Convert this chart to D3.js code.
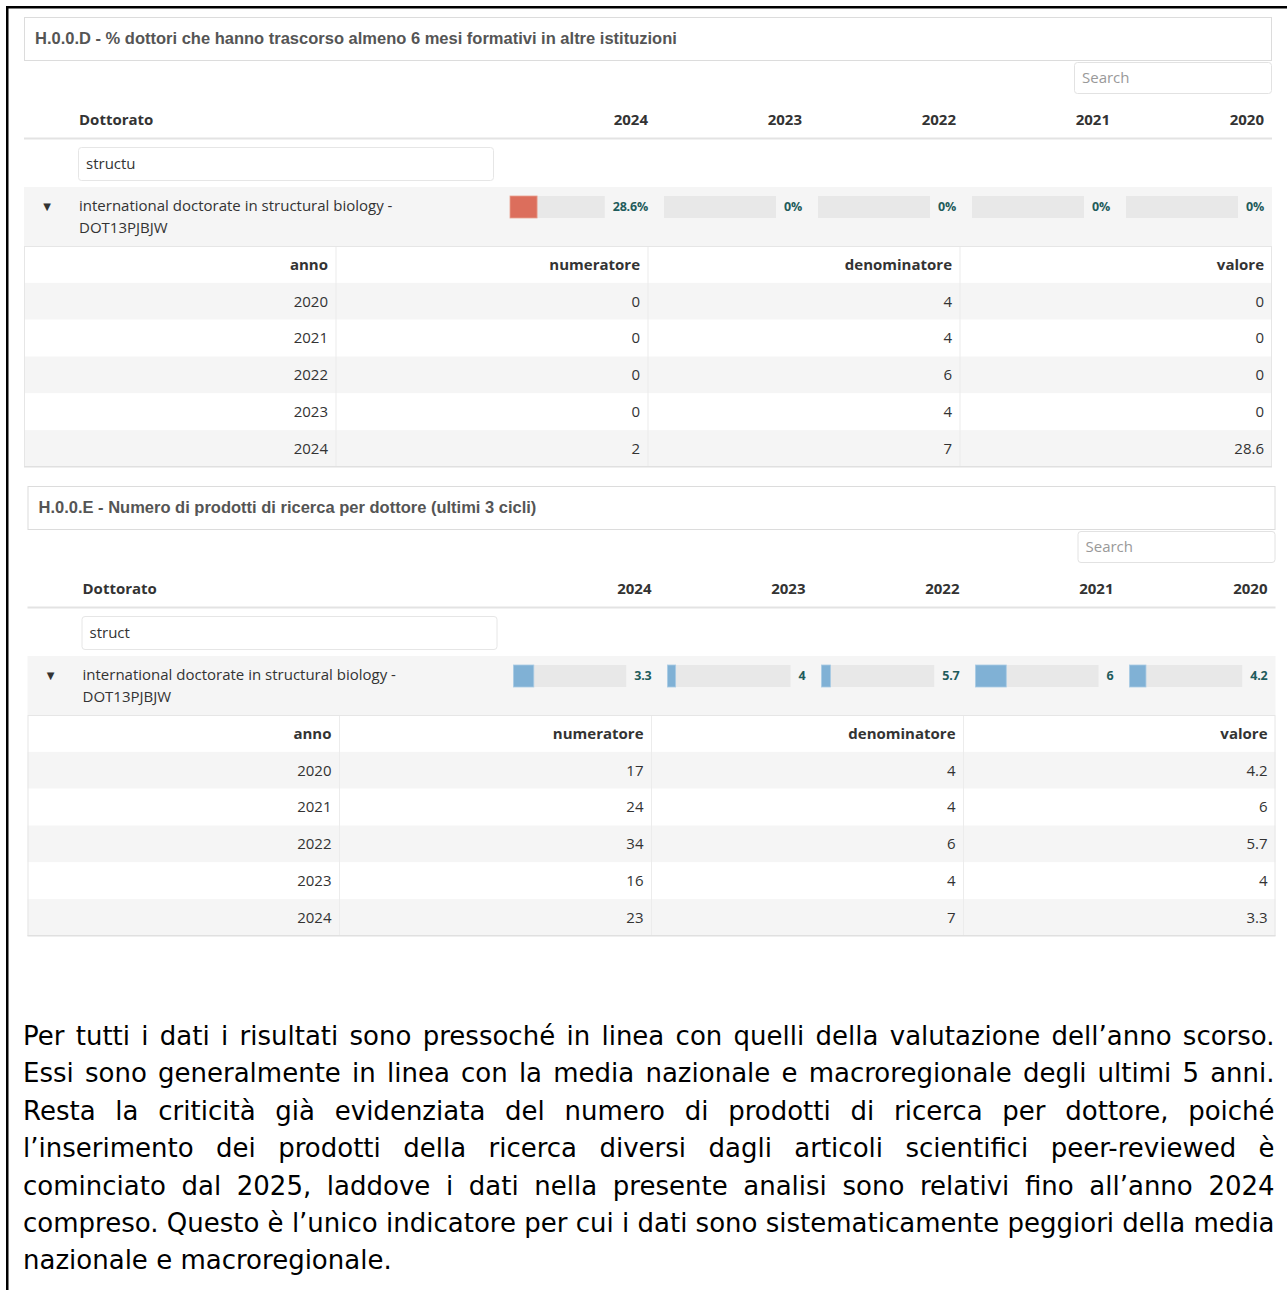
<!DOCTYPE html>
<html><head><meta charset="utf-8">
<script src="https://cdn.jsdelivr.net/npm/d3@7"></script>
<style>
html,body{margin:0;padding:0;background:#fff;}
svg{display:block;}
</style></head>
<body>
<svg id="c" width="1287" height="1290"></svg>
<script>
// ---- data ----
const yearCols = ["2024", "2023", "2022", "2021", "2020"];
const detailYears = ["2020", "2021", "2022", "2023", "2024"];
const detailHeaders = ["anno", "numeratore", "denominatore", "valore"];

const titleD = "H.0.0.D - % dottori che hanno trascorso almeno 6 mesi formativi in altre istituzioni";
const filterD = "structu";
const pctValues = [28.6, 0, 0, 0, 0];             // by yearCols
const pctLabels = ["28.6%", "0%", "0%", "0%", "0%"];
const pctNum = [0, 0, 0, 0, 2];                   // by detailYears
const pctDen = [4, 4, 6, 4, 7];
const pctVal = ["0", "0", "0", "0", "28.6"];

const titleE = "H.0.0.E - Numero di prodotti di ricerca per dottore (ultimi 3 cicli)";
const filterE = "struct";
const prodValues = [3.3, 4, 5.7, 6, 4.2];         // by yearCols
const prodLabels = ["3.3", "4", "5.7", "6", "4.2"];
const prodBarFill = [18, 6.6, 8, 25, 14.6];       // bar fill (% of track) as shown
const prodNum = [17, 24, 34, 16, 23];             // by detailYears
const prodDen = [4, 4, 6, 4, 7];
const prodVal = ["4.2", "6", "5.7", "4", "3.3"];

const programName = ["international doctorate in structural biology -", "DOT13PJBJW"];

const paragraph = [
  "Per tutti i dati i risultati sono pressoché in linea con quelli della valutazione dell’anno scorso.",
  "Essi sono generalmente in linea con la media nazionale e macroregionale degli ultimi 5 anni.",
  "Resta la criticità già evidenziata del numero di prodotti di ricerca per dottore, poiché",
  "l’inserimento dei prodotti della ricerca diversi dagli articoli scientifici peer-reviewed è",
  "cominciato dal 2025, laddove i dati nella presente analisi sono relativi fino all’anno 2024",
  "compreso. Questo è l’unico indicatore per cui i dati sono sistematicamente peggiori della media",
  "nazionale e macroregionale."
];

// ---- drawing ----
const svg = d3.select("#c");
const SANS = "'Open Sans', 'Noto Sans', sans-serif";
const ARIAL = "'Liberation Sans', Arial, sans-serif";

// black frame
svg.append("rect").attr("x", 6).attr("y", 6).attr("width", 1290).attr("height", 2.5).attr("fill", "#000");
svg.append("rect").attr("x", 6).attr("y", 6).attr("width", 2.5).attr("height", 1290).attr("fill", "#000");

function panel(g, opt) {
  const L = 24, R = 1272, W = R - L;
  // title box
  g.append("rect").attr("x", L + 0.5).attr("y", 17.5).attr("width", W - 1).attr("height", 43)
    .attr("fill", "#fff").attr("stroke", "#dcdcdc");
  g.append("text").attr("x", 35).attr("y", 38).attr("dy", "0.35em")
    .attr("font-family", ARIAL).attr("font-weight", "bold").attr("font-size", 16.5)
    .attr("fill", "#555").text(opt.title);
  // search box
  g.append("rect").attr("x", 1074.5).attr("y", 62.5).attr("width", 197).attr("height", 31).attr("rx", 3)
    .attr("fill", "#fff").attr("stroke", "#e2e2e2");
  g.append("text").attr("x", 1082).attr("y", 78).attr("dy", "0.35em")
    .attr("font-family", SANS).attr("font-size", 15).attr("fill", "#999").text("Search");

  // year columns
  const colX = d3.scaleBand().domain(yearCols).range([510, 1280]).paddingInner(0);
  const cellW = colX.bandwidth() - 16;

  // header
  g.append("text").attr("x", 79).attr("y", 120).attr("dy", "0.35em")
    .attr("font-family", SANS).attr("font-weight", "bold").attr("font-size", 15).attr("fill", "#333").text("Dottorato");
  g.selectAll("text.yh").data(yearCols).join("text").attr("class", "yh")
    .attr("x", d => colX(d) + cellW).attr("y", 120).attr("dy", "0.35em").attr("text-anchor", "end")
    .attr("font-family", SANS).attr("font-weight", "bold").attr("font-size", 15).attr("fill", "#333").text(d => d);
  g.append("rect").attr("x", L).attr("y", 137.5).attr("width", W).attr("height", 2).attr("fill", "#e3e3e3");

  // filter input
  g.append("rect").attr("x", 78.5).attr("y", 147.5).attr("width", 415).attr("height", 33).attr("rx", 3)
    .attr("fill", "#fff").attr("stroke", "#e6e6e6");
  g.append("text").attr("x", 86).attr("y", 164).attr("dy", "0.35em")
    .attr("font-family", SANS).attr("font-size", 15).attr("fill", "#333").text(opt.filter);

  // group row
  g.append("rect").attr("x", L).attr("y", 187).attr("width", W).attr("height", 59).attr("fill", "#f5f5f5");
  g.append("text").attr("x", 47).attr("y", 206).attr("dy", "0.35em").attr("text-anchor", "middle")
    .attr("font-family", "'DejaVu Sans', sans-serif").attr("font-size", 10).attr("fill", "#333").text("▼");
  programName.forEach((t, i) => {
    g.append("text").attr("x", 79).attr("y", 206 + i * 22).attr("dy", "0.35em")
      .attr("font-family", SANS).attr("font-size", 15).attr("fill", "#333").text(t);
  });

  // bars
  yearCols.forEach((yr, i) => {
    const x0 = colX(yr);
    const lab = g.append("text").attr("x", x0 + cellW).attr("y", 207).attr("dy", "0.35em").attr("text-anchor", "end")
      .attr("font-family", SANS).attr("font-weight", "bold").attr("font-size", 12.5).attr("fill", "#1f5c5c")
      .attr("letter-spacing", -0.2).text(opt.labels[i]);
    const lw = lab.node().getComputedTextLength();
    const trackW = cellW - lw - 8;
    const bx = d3.scaleLinear().domain([0, 100]).range([0, trackW]);
    g.append("rect").attr("x", x0).attr("y", 196).attr("width", trackW).attr("height", 22).attr("fill", "#e8e8e8");
    g.append("rect").attr("x", x0).attr("y", 196).attr("width", bx(opt.fill[i])).attr("height", 22)
      .attr("fill", opt.barColor).attr("stroke", opt.barStroke).attr("stroke-width", 0.8);
  });

  // detail table
  const cx = d3.scaleBand().domain(detailHeaders).range([L, R]);
  const ry = d3.scaleBand().domain(["h"].concat(detailYears)).range([246, 467]);
  // rows background
  ry.domain().forEach((k, i) => {
    g.append("rect").attr("x", L).attr("y", ry(k)).attr("width", W).attr("height", ry.bandwidth())
      .attr("fill", i % 2 === 1 ? "#f5f5f5" : "#fff");
  });
  // column separators
  detailHeaders.slice(1).forEach(h => {
    g.append("rect").attr("x", cx(h) - 0.5).attr("y", 246).attr("width", 1).attr("height", 221).attr("fill", "#ececec");
  });
  // outer border
  g.append("rect").attr("x", L + 0.5).attr("y", 246.5).attr("width", W - 1).attr("height", 220)
    .attr("fill", "none").attr("stroke", "#e6e6e6");
  g.append("rect").attr("x", L).attr("y", 466).attr("width", W).attr("height", 1.5).attr("fill", "#e0e0e0");
  // header text
  g.selectAll("text.dh").data(detailHeaders).join("text").attr("class", "dh")
    .attr("x", d => cx(d) + cx.bandwidth() - 8).attr("y", ry("h") + ry.bandwidth() / 2).attr("dy", "0.35em")
    .attr("text-anchor", "end").attr("font-family", SANS).attr("font-weight", "bold").attr("font-size", 15)
    .attr("fill", "#333").text(d => d);
  // cells
  detailYears.forEach((yr, i) => {
    const vals = [yr, opt.num[i], opt.den[i], opt.val[i]];
    vals.forEach((v, j) => {
      g.append("text").attr("x", cx(detailHeaders[j]) + cx.bandwidth() - 8)
        .attr("y", ry(yr) + ry.bandwidth() / 2).attr("dy", "0.35em").attr("text-anchor", "end")
        .attr("font-family", SANS).attr("font-size", 15).attr("fill", "#333").text(v);
    });
  });
}

panel(svg.append("g"), {
  title: titleD, filter: filterD, labels: pctLabels, fill: pctValues,
  barColor: "#dc6e5c", barStroke: "#e8a090", num: pctNum, den: pctDen, val: pctVal
});
panel(svg.append("g").attr("transform", "translate(3.5,469)"), {
  title: titleE, filter: filterE, labels: prodLabels, fill: prodBarFill,
  barColor: "#80b1d5", barStroke: "#a9cbe4", num: prodNum, den: prodDen, val: prodVal
});

// paragraph
const pg = svg.append("g");
const left = 23, right = 1275, targetW = right - left;
const lines = paragraph.map((t, i) => {
  const tg = pg.append("g");
  const tx = tg.append("text").attr("x", 0).attr("y", 0)
    .attr("font-family", "'DejaVu Sans', Verdana, sans-serif").attr("font-size", 26).attr("fill", "#000").text(t);
  return { tg, tx, w: tx.node().getComputedTextLength(), spaces: (t.match(/ /g) || []).length, i };
});
const s = targetW / d3.max([lines[0].w, lines[1].w, lines[5].w]);
lines.forEach(l => {
  const base = 1045 + l.i * 37.4;
  l.tg.attr("transform", `translate(${left},${base}) scale(${s},1)`);
  if (l.i < paragraph.length - 1) {
    const extra = (targetW / s - l.w) / l.spaces;
    l.tx.attr("word-spacing", extra);
  }
});
</script>
</body></html>
